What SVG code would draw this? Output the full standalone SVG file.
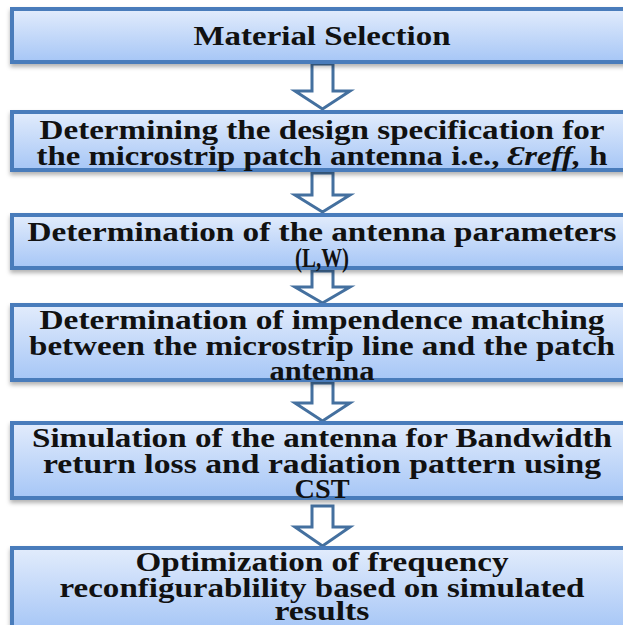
<svg xmlns="http://www.w3.org/2000/svg" width="623" height="625" viewBox="0 0 623 625">
<defs>
<linearGradient id="g" x1="0" y1="0" x2="0" y2="1">
<stop offset="0" stop-color="#e2ecfc"/>
<stop offset="1" stop-color="#a6c6f6"/>
</linearGradient>
<filter id="sh" x="-5%" y="-10%" width="110%" height="130%">
<feDropShadow dx="0" dy="3" stdDeviation="2" flood-color="#000" flood-opacity="0.3"/>
</filter>
</defs>
<style>
.box{fill:url(#g);stroke:#4a7cbb;stroke-width:4;filter:url(#sh)}
.arr{fill:#fff;stroke:#44709f;stroke-width:3;stroke-linejoin:miter}
text{font-family:"Liberation Serif","Times New Roman",serif;font-weight:bold;font-size:27px;fill:#111;text-anchor:middle}
.it{font-style:italic}
</style>
<rect width="623" height="625" fill="#fff"/>
<g id="connectors">
<path class="arr" d="M312,64 H333 V91 H350 L322.5,109 L295,91 H312 Z"/>
<path class="arr" d="M312,173 H333 V195 H350 L322.5,212 L295,195 H312 Z"/>
<path class="arr" d="M312,271 H333 V287 H350 L322.5,303 L295,287 H312 Z"/>
<path class="arr" d="M312,383 H333 V403 H350 L322.5,421 L295,403 H312 Z"/>
<path class="arr" d="M312,506 H333 V527 H350 L322.5,546 L295,527 H312 Z"/>
</g>
<g id="n1">
<rect class="box" x="12" y="9" width="622" height="53"/>
<text x="322" y="45" textLength="257" lengthAdjust="spacingAndGlyphs">Material Selection</text>
</g>
<g id="n2">
<rect class="box" x="12" y="112" width="622" height="58"/>
<text x="322" y="139" textLength="565" lengthAdjust="spacingAndGlyphs">Determining the design specification for</text>
<text x="322" y="165" textLength="571" lengthAdjust="spacingAndGlyphs">the microstrip patch antenna i.e., <tspan class="it">Ɛreff,</tspan> h</text>
</g>
<g id="n3">
<rect class="box" x="12" y="215" width="622" height="53"/>
<text x="322" y="241" textLength="589" lengthAdjust="spacingAndGlyphs">Determination of the antenna parameters</text>
<text x="322" y="267" textLength="54" lengthAdjust="spacingAndGlyphs">(L,W)</text>
</g>
<g id="n4">
<rect class="box" x="12" y="305" width="622" height="75"/>
<text x="322" y="329" textLength="565" lengthAdjust="spacingAndGlyphs">Determination of impendence matching</text>
<text x="322" y="355" textLength="586" lengthAdjust="spacingAndGlyphs">between the microstrip line and the patch</text>
<text x="322" y="380" textLength="105" lengthAdjust="spacingAndGlyphs">antenna</text>
</g>
<g id="n5">
<rect class="box" x="12" y="423" width="622" height="75"/>
<text x="322" y="447" textLength="580" lengthAdjust="spacingAndGlyphs">Simulation of the antenna for Bandwidth</text>
<text x="322" y="473" textLength="558" lengthAdjust="spacingAndGlyphs">return loss and radiation pattern using</text>
<text x="322" y="498" textLength="55" lengthAdjust="spacingAndGlyphs">CST</text>
</g>
<g id="n6">
<rect class="box" x="12" y="548" width="622" height="82"/>
<text x="322" y="571" textLength="373" lengthAdjust="spacingAndGlyphs">Optimization of frequency</text>
<text x="322" y="597" textLength="525" lengthAdjust="spacingAndGlyphs">reconfigurablility based on simulated</text>
<text x="322" y="620" textLength="95" lengthAdjust="spacingAndGlyphs">results</text>
</g>
</svg>
